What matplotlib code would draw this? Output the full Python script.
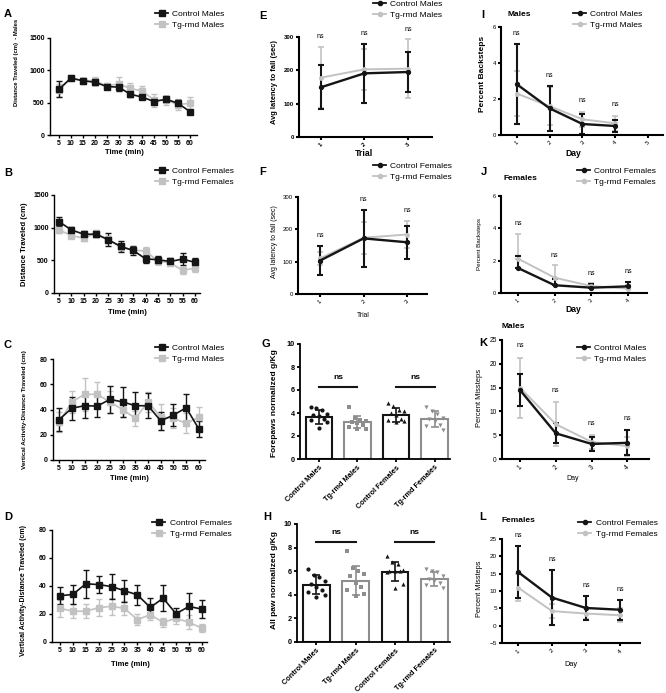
import numpy as np
import matplotlib
matplotlib.use("Agg")
import matplotlib.pyplot as plt
from matplotlib.lines import Line2D

plt.rcParams['font.family'] = ['Liberation Sans', 'DejaVu Sans']

W, H = 666, 693
BLACK = '#151515'
GRAY = '#c2c2c2'
BAR_GRAY = '#8e8e8e'

# ─── Data: open field (A-D) ───────────────────────────────────────────────────
time_min = [5, 10, 15, 20, 25, 30, 35, 40, 45, 50, 55, 60]

a_ctrl     = [710, 880, 838, 817, 750, 740, 631, 585, 517, 553, 491, 362]
a_ctrl_err = [130, 20, 40, 50, 40, 60, 50, 30, 40, 50, 50, 30]
a_tg       = [690, 880, 840, 840, 760, 790, 720, 680, 540, 540, 470, 490]
a_tg_err   = [100, 20, 40, 60, 50, 100, 80, 80, 100, 70, 80, 90]

b_ctrl     = [1093, 966, 900, 900, 813, 712, 651, 524, 508, 483, 519, 468]
b_ctrl_err = [70, 40, 50, 50, 100, 80, 70, 60, 60, 50, 90, 70]
b_tg       = [966, 880, 839, 915, 820, 700, 660, 640, 490, 460, 346, 381]
b_tg_err   = [40, 40, 50, 50, 60, 60, 50, 60, 50, 50, 50, 60]

c_ctrl     = [32, 41, 43, 42.7, 48, 46, 43, 43, 31, 35.6, 41.4, 24.5]
c_ctrl_err = [9, 9, 10, 9, 11, 12, 11, 10, 7, 9, 11, 6]
c_tg       = [30, 46, 52, 52, 46, 40, 33, 46, 34, 33, 29, 34]
c_tg_err   = [8, 9, 13, 10, 9, 6, 6, 8, 10, 8, 8, 8]

d_ctrl     = [33, 34, 41.6, 41, 39.6, 36.6, 33.7, 24.7, 31.3, 20.2, 25.4, 23.5]
d_ctrl_err = [6, 7, 10, 6, 9, 8, 7, 7, 9.5, 4, 9.6, 6.5]
d_tg       = [24, 22, 22, 24.5, 25.5, 24, 16, 19.5, 14, 17, 14, 10]
d_tg_err   = [6, 5, 5, 6, 6, 5, 4, 4, 3, 4, 5, 3]

# ─── Data: rotarod (E-F) ──────────────────────────────────────────────────────
trial = [1, 2, 3]
e_ctrl, e_ctrl_err = [149, 191, 195], [66, 89, 60]
e_tg, e_tg_err     = [178, 203, 205], [92, 62, 88]
f_ctrl, f_ctrl_err = [103.5, 172, 160], [46, 89, 51]
f_tg, f_tg_err     = [110, 174, 184], [20, 50, 43]

# ─── Data: grip strength (G-H) ────────────────────────────────────────────────
groups = ['Control Males', 'Tg-rmd Males', 'Control Females', 'Tg-rmd Females']
g_mean = [3.68, 3.2, 3.8, 3.48]
g_sd   = [0.6, 0.5, 0.6, 0.7]
g_pts = [
    [4.5, 4.4, 4.3, 3.9, 3.8, 3.7, 3.5, 3.4, 3.2, 2.7],
    [4.5, 3.6, 3.4, 3.3, 3.2, 3.1, 3.0, 2.8, 2.6, 2.6],
    [4.9, 4.6, 4.3, 4.2, 4.0, 3.8, 3.5, 3.4, 3.3, 3.2],
    [4.5, 4.2, 3.9, 3.6, 3.5, 3.3, 3.0, 2.9, 2.5],
]
h_mean = [4.85, 5.2, 5.97, 5.35]
h_sd   = [0.8, 1.2, 0.8, 0.6]
h_pts = [
    [6.2, 5.7, 5.5, 5.2, 4.9, 4.7, 4.4, 4.2, 4.0, 3.8],
    [7.7, 6.3, 6.0, 5.8, 5.6, 5.0, 4.7, 4.4, 4.1, 3.9],
    [7.3, 6.8, 6.6, 6.1, 6.0, 6.0, 6.0, 5.9, 4.9, 4.6],
    [6.2, 6.0, 5.9, 5.6, 5.3, 5.2, 5.0, 4.8, 4.6],
]

# ─── Data: beam walk (I-L) ────────────────────────────────────────────────────
day = [1, 2, 3, 4]
i_ctrl, i_ctrl_err = [2.82, 1.48, 0.61, 0.5], [2.22, 1.23, 0.57, 0.33]
i_tg, i_tg_err     = [2.3, 1.6, 0.87, 0.65], [1.25, 1.05, 0.42, 0.42]
j_ctrl, j_ctrl_err = [1.55, 0.48, 0.33, 0.41], [0.75, 0.4, 0.25, 0.3]
j_tg, j_tg_err     = [2.13, 0.95, 0.43, 0.27], [1.55, 0.77, 0.2, 0.2]
k_ctrl, k_ctrl_err = [14.5, 5.4, 3.16, 3.4], [3.4, 2.1, 1.5, 2.6]
k_tg, k_tg_err     = [15.0, 7.3, 3.6, 2.7], [6.3, 4.6, 1.4, 2.0]
l_ctrl, l_ctrl_err = [15.5, 8.1, 5.1, 4.6], [7.4, 7.9, 3.5, 2.9]
l_tg, l_tg_err     = [11.0, 4.2, 3.5, 3.0], [4.0, 2.0, 1.5, 2.0]


fig = plt.figure(figsize=(W / 100, H / 100), dpi=100)


def fx(x):
    return x / W


def fy(y):
    return 1 - y / H


def px_ax(left, right, top, bottom):
    return fig.add_axes([fx(left), fy(bottom), (right - left) / W, (bottom - top) / H])


def style(ax, lw, size, bold):
    for s in ('top', 'right'):
        ax.spines[s].set_visible(False)
    for s in ('left', 'bottom'):
        ax.spines[s].set_linewidth(lw)
    ax.tick_params(width=lw, length=2.5, labelsize=size, pad=1.2)
    if bold:
        for t in ax.get_xticklabels() + ax.get_yticklabels():
            t.set_fontweight('bold')


def ylab(ax, text, x, y, size, bold=True):
    ax.set_ylabel(text, fontsize=size, fontweight='bold' if bold else 'normal', va='center')
    ax.yaxis.set_label_coords(fx(x), fy(y), transform=fig.transFigure)


def xlab(ax, text, x, y, size, bold=True):
    ax.set_xlabel(text, fontsize=size, fontweight='bold' if bold else 'normal', va='center')
    ax.xaxis.set_label_coords(fx(x), fy(y), transform=fig.transFigure)


def legend(ax, labels, marker, ms, x, y):
    handles = [Line2D([], [], color=BLACK, marker=marker, ms=ms, lw=1.3),
               Line2D([], [], color=GRAY, marker=marker, ms=ms, lw=1.3)]
    ax.legend(handles, labels, loc='upper left', bbox_to_anchor=(fx(x), fy(y)),
              bbox_transform=fig.transFigure, frameon=False, fontsize=6,
              handlelength=1.6, handletextpad=0.5, borderpad=0, borderaxespad=0,
              labelspacing=0.35)


def letter(s, x, y):
    fig.text(fx(x), fy(y), s, fontsize=8, fontweight='bold', va='center')


def time_panel(box, xlim, yticks, ctrl, ctrl_err, tg, tg_err):
    ax = px_ax(*box)
    ax.errorbar(time_min, tg, yerr=tg_err, color=GRAY, marker='s', ms=4.3, lw=1.2,
                elinewidth=1.0, capsize=2.2, capthick=1.0, clip_on=False)
    ax.errorbar(time_min, ctrl, yerr=ctrl_err, color=BLACK, marker='s', ms=4.3, lw=1.2,
                elinewidth=1.0, capsize=2.2, capthick=1.0, clip_on=False)
    ax.set_xlim(*xlim)
    ax.set_ylim(yticks[0], yticks[-1])
    ax.set_xticks(time_min)
    ax.set_yticks(yticks)
    style(ax, 1.0, 5, True)
    return ax


def day_panel(box, x, xticks, xlim, yticks, ctrl, ctrl_err, tg, tg_err,
              tick_size, upper_only=False):
    ax = px_ax(*box)
    zeros = np.zeros(len(x))
    te = [zeros, tg_err] if upper_only else tg_err
    ce = [zeros, ctrl_err] if upper_only else ctrl_err
    ax.errorbar(x, tg, yerr=te, color=GRAY, marker='o', ms=2.5, lw=1.4,
                elinewidth=1.2, capsize=2.5, capthick=1.2, clip_on=False)
    ax.errorbar(x, ctrl, yerr=ce, color=BLACK, marker='o', ms=2.8, lw=1.7,
                elinewidth=1.5, capsize=2.5, capthick=1.5, clip_on=False)
    ax.set_xlim(*xlim)
    ax.set_ylim(yticks[0], yticks[-1])
    ax.set_xticks(xticks)
    ax.set_yticks(yticks)
    ax.set_xticklabels([str(v) for v in xticks], rotation=45)
    style(ax, 1.5, tick_size, False)
    span = yticks[-1] - yticks[0]
    for xi, c, cerr, t, terr in zip(x, ctrl, ctrl_err, tg, tg_err):
        top = max(c + cerr, t + terr)
        ax.text(xi, top + 0.1 * span, 'ns', ha='center', va='center', fontsize=5)
    return ax


def bar_panel(box, means, sds, pts, ns_y):
    ax = px_ax(*box)
    edges = [BLACK, BAR_GRAY, BLACK, BAR_GRAY]
    markers = ['o', 's', '^', 'v']
    pattern = [-0.21, -0.07, 0.07, 0.21, -0.14, 0.0, 0.14, -0.21, 0.21, 0.0]
    for i in range(len(groups)):
        ax.bar(i, means[i], width=0.68, facecolor='white', edgecolor=edges[i], lw=1.5, zorder=1)
        xs = i + np.array(pattern[:len(pts[i])])
        ax.scatter(xs, pts[i], s=9, marker=markers[i], color=edges[i], zorder=3, lw=0)
        ax.errorbar(i, means[i], yerr=sds[i], color=edges[i], capsize=3, elinewidth=1.2,
                    capthick=1.2, zorder=4)
    for a, b in ((0, 1), (2, 3)):
        ax.plot([a, b], [ns_y, ns_y], color=BLACK, lw=1.5)
        ax.text((a + b) / 2, ns_y + 0.8, 'ns', ha='center', va='center',
                fontsize=6, fontweight='bold')
    ax.set_xlim(-0.49, 3.4)
    ax.set_ylim(0, 10)
    ax.set_yticks([0, 2, 4, 6, 8, 10])
    ax.set_xticks(range(len(groups)))
    ax.set_xticklabels(groups, rotation=45, ha='right', rotation_mode='anchor')
    style(ax, 1.3, 5.3, True)
    return ax


# ─── A-D: open field ──────────────────────────────────────────────────────────
ax = time_panel((50, 197, 38, 135), (1.2, 63), [0, 500, 1000, 1500],
                a_ctrl, a_ctrl_err, a_tg, a_tg_err)
ylab(ax, 'Distance Traveled (cm)  - Males', 17, 62, 4.2)
xlab(ax, 'Time (min)', 124, 153, 5.5)
legend(ax, ['Control Males', 'Tg-rmd Males'], 's', 4, 155, 10)
letter('A', 4, 14)

ax = time_panel((54, 200, 195, 293), (3, 62), [0, 500, 1000, 1500],
                b_ctrl, b_ctrl_err, b_tg, b_tg_err)
ylab(ax, 'Distance Traveled (cm)', 25, 244, 5.5)
xlab(ax, 'Time (min)', 127, 312, 5.5)
legend(ax, ['Control Females', 'Tg-rmd Females'], 's', 4, 155, 167)
letter('B', 4, 173)

ax = time_panel((53, 205, 359, 460), (2.6, 62.4), [0, 20, 40, 60, 80],
                c_ctrl, c_ctrl_err, c_tg, c_tg_err)
ylab(ax, 'Vertical Activity-Distance Traveled (cm)', 25, 410, 4.6)
xlab(ax, 'Time (min)', 129, 479, 5.5)
legend(ax, ['Control Males', 'Tg-rmd Males'], 's', 4, 155, 344)
letter('C', 4, 345)

ax = time_panel((52, 207, 530, 642), (1.9, 62), [0, 20, 40, 60, 80],
                d_ctrl, d_ctrl_err, d_tg, d_tg_err)
ylab(ax, 'Vertical Activity-Distance Traveled (cm)', 24, 590, 5.0)
xlab(ax, 'Time (min)', 130, 664, 5.5)
legend(ax, ['Control Females', 'Tg-rmd Females'], 's', 4, 152, 519)
letter('D', 4, 517)

# ─── E-F: rotarod ─────────────────────────────────────────────────────────────
ax = day_panel((299, 432, 37, 137), trial, trial, (0.5, 3.55), [0, 100, 200, 300],
               e_ctrl, e_ctrl_err, e_tg, e_tg_err, 4.3)
for t in ax.get_xticklabels() + ax.get_yticklabels():
    t.set_fontweight('bold')
ylab(ax, 'Avg latency to fall (sec)', 275, 82, 5.4)
xlab(ax, 'Trial', 364, 153, 6.3)
legend(ax, ['Control Males', 'Tg-rmd Males'], 'o', 3, 373, 0)
letter('E', 259, 16)

ax = day_panel((298, 427, 197, 294), trial, trial, (0.49, 3.46), [0, 100, 200, 300],
               f_ctrl, f_ctrl_err, f_tg, f_tg_err, 4.3)
ylab(ax, 'Avg latency to fall (sec)', 275, 242, 5.0, bold=False)
xlab(ax, 'Trial', 363, 316, 4.8, bold=False)
legend(ax, ['Control Females', 'Tg-rmd Females'], 'o', 3, 373, 162)
letter('F', 259, 172)

# ─── G-H: grip strength ───────────────────────────────────────────────────────
ax = bar_panel((300, 450, 344, 459), g_mean, g_sd, g_pts, 6.3)
ylab(ax, 'Forepaws normalized g/Kg', 275, 403, 6.0)
letter('G', 262, 344)

ax = bar_panel((297, 450, 524, 642), h_mean, h_sd, h_pts, 8.5)
ylab(ax, 'All paw normalized g/Kg', 275, 580, 6.0)
letter('H', 263, 517)

# ─── I-L: beam walk ───────────────────────────────────────────────────────────
ax = day_panel((501, 663, 27, 135), day, [1, 2, 3, 4, 5], (0.52, 5.45), [0, 2, 4, 6],
               i_ctrl, i_ctrl_err, i_tg, i_tg_err, 4.3)
ylab(ax, 'Percent Backsteps', 483, 74, 6.0)
xlab(ax, 'Day', 573, 154, 6.2)
legend(ax, ['Control Males', 'Tg-rmd Males'], 'o', 3, 573, 10)
fig.text(fx(508), fy(15), 'Males', fontsize=6, fontweight='bold', va='center')
letter('I', 481, 15)

ax = day_panel((501, 647, 196, 293), day, day, (0.54, 4.52), [0, 2, 4, 6],
               j_ctrl, j_ctrl_err, j_tg, j_tg_err, 4.0, upper_only=True)
ylab(ax, 'Percent Backsteps', 479, 244, 4.5, bold=False)
xlab(ax, 'Day', 573, 310, 6.2)
legend(ax, ['Control Females', 'Tg-rmd Females'], 'o', 3, 577, 167)
fig.text(fx(503), fy(178), 'Females', fontsize=6, fontweight='bold', va='center')
letter('J', 481, 172)

ax = day_panel((502, 649, 340, 459), day, day, (0.5, 4.6), [0, 5, 10, 15, 20, 25],
               k_ctrl, k_ctrl_err, k_tg, k_tg_err, 4.8)
ylab(ax, 'Percent Missteps', 479, 398, 5.4, bold=False)
xlab(ax, 'Day', 573, 478, 5.0, bold=False)
legend(ax, ['Control Males', 'Tg-rmd Males'], 'o', 3, 577, 344)
fig.text(fx(502), fy(327), 'Males', fontsize=6, fontweight='bold', va='center')
letter('K', 479, 343)

ax = day_panel((502, 640, 539, 643), day, day, (0.53, 4.59), [-5, 0, 5, 10, 15, 20, 25],
               l_ctrl, l_ctrl_err, l_tg, l_tg_err, 4.6)
ylab(ax, 'Percent Missteps', 479, 589, 5.3, bold=False)
xlab(ax, 'Day', 571, 664, 5.3, bold=False)
legend(ax, ['Control Females', 'Tg-rmd Females'], 'o', 3, 578, 519)
fig.text(fx(502), fy(521), 'Females', fontsize=6, fontweight='bold', va='center')
letter('L', 479, 517)

fig.savefig('out.png', dpi=100)
